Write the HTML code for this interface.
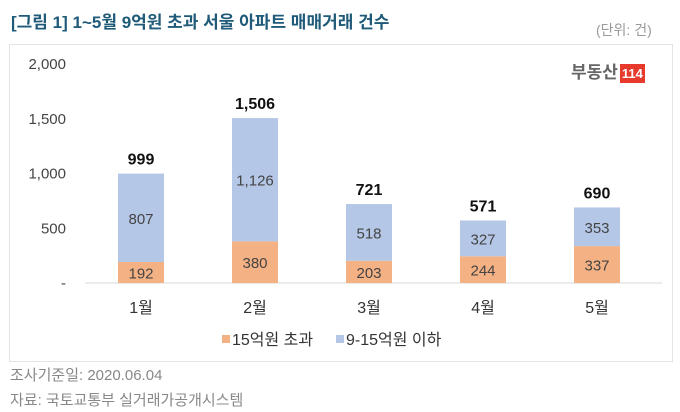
<!DOCTYPE html>
<html><head><meta charset="utf-8"><style>
body{margin:0;width:680px;height:412px;background:#fff;font-family:"Liberation Sans","Noto Sans CJK KR",sans-serif;position:relative;overflow:hidden}
.t{position:absolute;white-space:nowrap}
</style></head><body>
<div class="t" style="left:11px;top:8px;font-size:17px;font-weight:bold;color:#1f5a78">[그림 1] 1~5월 9억원 초과 서울 아파트 매매거래 건수</div>
<div class="t" style="left:596px;top:20px;font-size:14px;color:#999">(단위: 건)</div>
<div style="position:absolute;left:9px;top:44px;width:662px;height:316px;border:1px solid #e3e3e3"></div>
<div class="t" style="left:571px;top:58px;font-size:17px;font-weight:bold;color:#666">부동산<span style="background:#e8392d;color:#fff;font-size:13px;padding:2px 2px;margin-left:2px">114</span></div>
<svg id="c" width="680" height="412" style="position:absolute;left:0;top:0"></svg>
<div class="t" style="left:10px;top:364px;font-size:15px;color:#888">조사기준일: 2020.06.04</div>
<div class="t" style="left:10px;top:389px;font-size:15px;color:#888">자료: 국토교통부 실거래가공개시스템</div>
<script>
const categories=["1월","2월","3월","4월","5월"];
const over15=[192,380,203,244,337];
const mid=[807,1126,518,327,353];
const totals=[999,1506,721,571,690];
const ticks=[0,500,1000,1500,2000];
const tickLabels=["-","500","1,000","1,500","2,000"];
const svg=document.getElementById('c');const NS='http://www.w3.org/2000/svg';
const y=v=>283-v*0.1095;const x=i=>141+i*114;const bw=46;
function mk(t,a,txt){const e=document.createElementNS(NS,t);for(const k in a)e.setAttribute(k,a[k]);if(txt!=null)e.textContent=txt;svg.appendChild(e);return e;}
ticks.forEach((t,i)=>{const e=mk('text',{x:66,y:y(t)+5,'text-anchor':'end','font-size':15,fill:'#444'},tickLabels[i]);

});
const ax=mk('line',{x1:85,x2:662,y1:283,y2:283,stroke:'#d9d9d9'});


categories.forEach((c,i)=>{
 const cx=x(i);
 const r1=mk('rect',{x:cx-bw/2,y:y(over15[i]),width:bw,height:y(0)-y(over15[i]),fill:'#f4b183'});
 
 
 const r2=mk('rect',{x:cx-bw/2,y:y(over15[i]+mid[i]),width:bw,height:y(over15[i])-y(over15[i]+mid[i]),fill:'#b4c7e7'});
 
 
 mk('text',{x:cx,y:(y(0)+y(over15[i]))/2+6,'text-anchor':'middle','font-size':15,fill:'#444'},over15[i].toLocaleString('en-US'));
 mk('text',{x:cx,y:(y(over15[i])+y(over15[i]+mid[i]))/2+6,'text-anchor':'middle','font-size':15,fill:'#444'},mid[i].toLocaleString('en-US'));
 const tl=mk('text',{x:cx,y:y(totals[i])-9,'text-anchor':'middle','font-size':16,'font-weight':'bold',fill:'#111'},totals[i].toLocaleString('en-US'));
 
 
 const xl=mk('text',{x:cx,y:313,'text-anchor':'middle','font-size':16,fill:'#333'},c);
 
 
});
const l1=mk('rect',{x:222,y:335,width:8,height:8,fill:'#f4b183'});


mk('text',{x:232,y:345,'font-size':16,fill:'#333'},'15억원 초과');
const l2=mk('rect',{x:336,y:335,width:8,height:8,fill:'#b4c7e7'});


mk('text',{x:346,y:345,'font-size':16,fill:'#333'},'9-15억원 이하');
</script>
</body></html>
